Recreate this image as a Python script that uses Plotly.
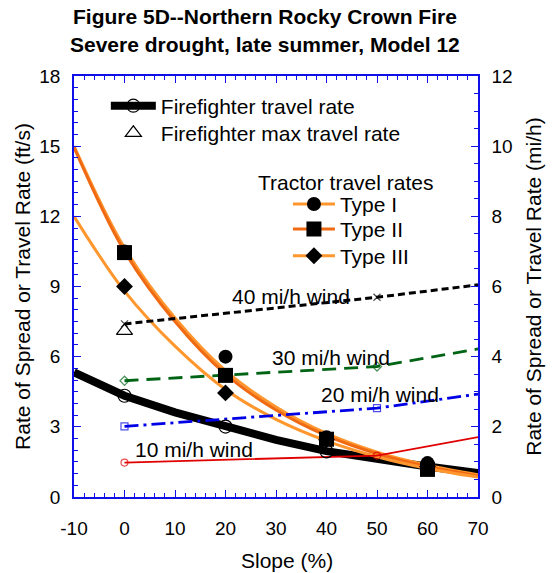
import plotly.graph_objects as go

# ---------------- data ----------------
slope = [-10, 0, 10, 20, 30, 40, 50, 60, 70]
ff_rate = [5.33, 4.33, 3.62, 3.0, 2.44, 1.96, 1.6, 1.3, 1.02]
ff_mark_slope = [0, 20, 40, 60]
ff_mark_rate = [4.33, 3.01, 1.95, 1.3]
ff_max_slope = [0]
ff_max_rate = [7.1]

type1_curve = [15.0, 10.65, 7.65, 5.4, 3.85, 2.72, 1.92, 1.36, 0.95]
type2_curve = [14.95, 10.5, 7.5, 5.25, 3.72, 2.62, 1.85, 1.3, 0.9]
type3_curve = [12.0, 8.8, 6.45, 4.6, 3.32, 2.4, 1.72, 1.22, 0.85]

tractor_slope = [0, 20, 40, 60]
type1_pts = [10.5, 6.0, 2.55, 1.45]
type2_pts = [10.45, 5.2, 2.47, 1.18]
type3_pts = [9.0, 4.45, 2.45, 1.3]

wind_slope = [0, 50, 70]
wind40 = [7.4, 8.54, 9.07]
wind30 = [4.97, 5.58, 6.33]
wind20 = [3.02, 3.8, 4.4]
wind10 = [1.47, 1.77, 2.56]

wind_label_text = ["40 mi/h wind", "30 mi/h wind", "20 mi/h wind", "10 mi/h wind"]
wind_label_x = [33.0, 40.8, 50.6, 13.8]
wind_label_y = [8.57, 5.96, 4.37, 2.01]

x_tick_vals = [-10, 0, 10, 20, 30, 40, 50, 60, 70]
x_tick_text = ["-10", "0", "10", "20", "30", "40", "50", "60", "70"]

LIGHT_OR = "#FF962E"
DARK_OR = "#F06A14"
AXIS_BLUE = "#1010E8"
FONT = "Liberation Sans, Arial, sans-serif"
TXT = 21

fig = go.Figure()

# firefighter thick line
fig.add_trace(go.Scatter(x=slope, y=ff_rate, mode="lines", line=dict(color="black", width=8),
                         showlegend=False, hoverinfo="skip"))
# tractor curves
fig.add_trace(go.Scatter(x=slope, y=type1_curve, mode="lines", line=dict(color=LIGHT_OR, width=3, shape="spline"),
                         showlegend=False))
fig.add_trace(go.Scatter(x=slope, y=type2_curve, mode="lines", line=dict(color=DARK_OR, width=3, shape="spline"),
                         showlegend=False))
fig.add_trace(go.Scatter(x=slope, y=type3_curve, mode="lines", line=dict(color=LIGHT_OR, width=3, shape="spline"),
                         showlegend=False))

# wind lines
msz = [7, 7, 0]
fig.add_trace(go.Scatter(x=wind_slope, y=wind40, mode="lines+markers",
                         line=dict(color="black", width=3, dash="7px,4px"),
                         marker=dict(symbol="x-thin", size=msz, line=dict(color="black", width=1.2)),
                         showlegend=False))
fig.add_trace(go.Scatter(x=wind_slope, y=wind30, mode="lines+markers",
                         line=dict(color="#006414", width=2.8, dash="14px,8px"),
                         marker=dict(symbol="diamond-open", size=msz, color="#006414", line=dict(width=1.2)),
                         showlegend=False))
fig.add_trace(go.Scatter(x=wind_slope, y=wind20, mode="lines+markers",
                         line=dict(color="#0000E6", width=2.8, dash="14px,5px,3px,5px"),
                         marker=dict(symbol="square-open", size=msz, color="#0000E6", line=dict(width=1.2)),
                         showlegend=False))
fig.add_trace(go.Scatter(x=wind_slope, y=wind10, mode="lines+markers",
                         line=dict(color="#E00000", width=1.8),
                         marker=dict(symbol="circle-open", size=msz, color="#E00000", line=dict(width=1.2)),
                         showlegend=False))

# markers
fig.add_trace(go.Scatter(x=ff_mark_slope, y=ff_mark_rate, mode="markers",
                         marker=dict(symbol="circle-open", size=13, color="black", line=dict(width=1.2)),
                         showlegend=False))
fig.add_trace(go.Scatter(x=ff_max_slope, y=ff_max_rate, mode="markers",
                         marker=dict(symbol="triangle-up-open", size=14, color="black", line=dict(width=1.2)),
                         showlegend=False))
fig.add_trace(go.Scatter(x=tractor_slope, y=type1_pts, mode="markers",
                         marker=dict(symbol="circle", size=14, color="black"), showlegend=False))
fig.add_trace(go.Scatter(x=tractor_slope, y=type2_pts, mode="markers",
                         marker=dict(symbol="square", size=15, color="black"), showlegend=False))
fig.add_trace(go.Scatter(x=tractor_slope, y=type3_pts, mode="markers",
                         marker=dict(symbol="diamond", size=13, color="black"), showlegend=False))

# legend entries (one legend per entry for exact spacing)
fig.add_trace(go.Scatter(x=[None], y=[None], mode="lines+markers", name="Firefighter travel rate",
                         line=dict(color="black", width=8),
                         marker=dict(symbol="circle-open", size=13, color="black", line=dict(width=1.2)),
                         legend="legend"))
fig.add_trace(go.Scatter(x=[None], y=[None], mode="markers", name="Firefighter max travel rate",
                         marker=dict(symbol="triangle-up-open", size=14, color="black", line=dict(width=1.2)),
                         legend="legend2"))
fig.add_trace(go.Scatter(x=[None], y=[None], mode="lines+markers", name="Type I",
                         line=dict(color=LIGHT_OR, width=3), marker=dict(symbol="circle", size=14, color="black"),
                         legend="legend3"))
fig.add_trace(go.Scatter(x=[None], y=[None], mode="lines+markers", name="Type II",
                         line=dict(color=DARK_OR, width=3), marker=dict(symbol="square", size=15, color="black"),
                         legend="legend4"))
fig.add_trace(go.Scatter(x=[None], y=[None], mode="lines+markers", name="Type III",
                         line=dict(color=LIGHT_OR, width=3), marker=dict(symbol="diamond", size=13, color="black"),
                         legend="legend5"))

# dummy trace on y2 so the right axis is drawn
fig.add_trace(go.Scatter(x=[None], y=[None], yaxis="y2", showlegend=False))

for t, xx, yy in zip(wind_label_text, wind_label_x, wind_label_y):
    fig.add_annotation(x=xx, y=yy, text=t, showarrow=False, xanchor="center", yanchor="middle",
                       font=dict(size=TXT, color="black", family=FONT))

ann = dict(xref="paper", yref="paper", showarrow=False, xanchor="center", yanchor="middle")
fig.add_annotation(ann, x=0.672, y=0.748, text="Tractor travel rates",
                   font=dict(size=TXT, color="black", family=FONT))
fig.add_annotation(ann, x=0.473, y=1.141, text="<b>Figure 5D--Northern Rocky Crown Fire</b>",
                   font=dict(size=21, color="black", family=FONT))
fig.add_annotation(ann, x=0.473, y=1.076, text="<b>Severe drought, late summer, Model 12</b>",
                   font=dict(size=21, color="black", family=FONT))
fig.add_annotation(ann, x=0.527, y=-0.15, text="Slope (%)",
                   font=dict(size=TXT, color="black", family=FONT))

tickfont = dict(size=19, color="black", family=FONT)
leg = dict(xanchor="left", yanchor="middle", bgcolor="rgba(0,0,0,0)", font=dict(size=TXT, family=FONT))
fig.update_layout(
    width=554, height=573,
    margin=dict(l=74, r=74, t=76, b=76),
    paper_bgcolor="white", plot_bgcolor="white",
    font=dict(family=FONT, color="black"),
    xaxis=dict(range=[-10, 70], tickmode="array", tickvals=x_tick_vals, ticktext=x_tick_text,
               ticks="inside", ticklen=7, tickcolor=AXIS_BLUE, tickwidth=1.2,
               showline=True, linecolor=AXIS_BLUE, linewidth=1.5, mirror="ticks", showgrid=False, zeroline=False,
               minor=dict(dtick=2, tick0=-10, ticks="inside", ticklen=4, tickcolor=AXIS_BLUE, tickwidth=1),
               tickfont=tickfont, ticklabelstandoff=13),
    yaxis=dict(range=[0, 18], dtick=3, ticks="inside", ticklen=7, tickcolor=AXIS_BLUE, tickwidth=1.2,
               showline=True, linecolor=AXIS_BLUE, linewidth=1.5, showgrid=False, zeroline=False,
               minor=dict(dtick=0.5, ticks="inside", ticklen=4, tickcolor=AXIS_BLUE, tickwidth=1),
               tickfont=tickfont, ticklabelstandoff=8,
               title=dict(text="Rate of Spread or Travel Rate (ft/s)", font=dict(size=TXT, family=FONT), standoff=3)),
    yaxis2=dict(range=[0, 12], dtick=2, overlaying="y", side="right", ticks="inside", ticklen=7,
                tickcolor=AXIS_BLUE, tickwidth=1.2, showline=True, linecolor=AXIS_BLUE, linewidth=1.5,
                showgrid=False, zeroline=False,
                minor=dict(dtick=0.5, ticks="inside", ticklen=4, tickcolor=AXIS_BLUE, tickwidth=1),
                tickfont=tickfont, ticklabelstandoff=8,
                title=dict(text="Rate of Spread or Travel Rate (mi/h)", font=dict(size=TXT, family=FONT), standoff=15)),
    legend=dict(leg, x=(106 - 74) / 406, y=0.9286, itemwidth=45),
    legend2=dict(leg, x=(106 - 74) / 406, y=0.8643, itemwidth=45),
    legend3=dict(leg, x=(289 - 74) / 406, y=0.6952, itemwidth=42),
    legend4=dict(leg, x=(289 - 74) / 406, y=0.6357, itemwidth=42),
    legend5=dict(leg, x=(289 - 74) / 406, y=0.5721, itemwidth=42),
)

fig.write_html("out.html")
